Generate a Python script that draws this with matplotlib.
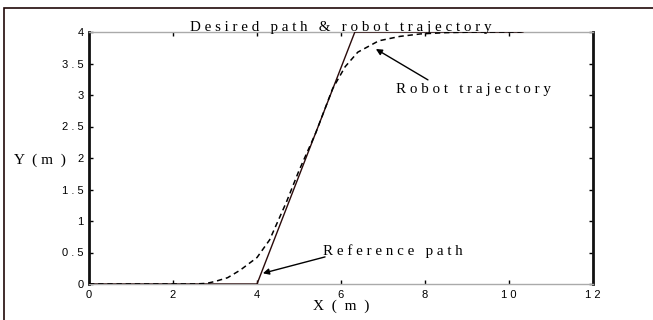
import matplotlib
matplotlib.use("Agg")
import matplotlib.pyplot as plt
from matplotlib.patches import Rectangle
from matplotlib.ticker import FixedLocator, FuncFormatter

# Data
ref_x = [0, 4.0, 6.33, 10.33]
ref_y = [0, 0, 4.0, 4.0]
traj_x = [0, 2.5, 2.8, 3.0, 3.3, 3.6, 4.0, 4.3, 4.7, 5.0, 5.4, 5.8, 6.1, 6.4, 6.9, 7.4, 7.9, 8.5, 9.3, 10.3]
traj_y = [0, 0, 0.01, 0.04, 0.1, 0.22, 0.42, 0.7, 1.3, 1.8, 2.4, 3.1, 3.45, 3.68, 3.86, 3.93, 3.97, 3.99, 4.0, 4.0]
x_ticks = [0, 2, 4, 6, 8, 10, 12]
y_ticks = [0, 0.5, 1, 1.5, 2, 2.5, 3, 3.5, 4]

def spaced(s):
    return " ".join(list(s))

fig = plt.figure(figsize=(6.53, 3.2), dpi=100)
ax = fig.add_axes([89/653, 36/320, (593-89)/653, (284-32)/320])

serif = "Liberation Serif"
sans = "Liberation Sans"

ax.plot(ref_x, ref_y, color="#2a0a0a", lw=1.0, zorder=3)
ax.plot(traj_x, traj_y, color="black", lw=1.1, dashes=(3.5, 2.5), zorder=4)

ax.set_xlim(0, 12)
ax.set_ylim(0, 4)
ax.xaxis.set_major_locator(FixedLocator(x_ticks))
ax.yaxis.set_major_locator(FixedLocator(y_ticks))
ax.xaxis.set_major_formatter(FuncFormatter(lambda v, p: spaced("%g" % v)))
ax.yaxis.set_major_formatter(FuncFormatter(lambda v, p: spaced("%g" % v)))
ax.tick_params(direction="in", length=3, width=1, top=True, right=True,
               labelsize=8, pad=4, colors="black")
for lab in ax.get_xticklabels() + ax.get_yticklabels():
    lab.set_family(sans)

for s in ["left", "right"]:
    ax.spines[s].set_linewidth(2.0)
    ax.spines[s].set_color("#111111")
for s in ["top", "bottom"]:
    ax.spines[s].set_linewidth(1.0)
    ax.spines[s].set_color("#aaaaaa")

ax.set_title(spaced("Desired path") + "   &   " + spaced("robot trajectory"),
             family=serif, fontsize=10.8, pad=1)
ax.set_xlabel("X  (  m  )", family=serif, fontsize=11, labelpad=0)
ax.text(-0.046, 0.49, "Y  ( m  )", transform=ax.transAxes, family=serif,
        fontsize=11, ha="right", va="center")

ax.annotate("", xy=(6.83, 3.73), xytext=(8.07, 3.24),
            arrowprops=dict(arrowstyle="-|>", color="black", lw=1.0,
                            mutation_scale=9, shrinkA=0, shrinkB=0))
ax.text(7.31, 3.08, spaced("Robot") + "   " + spaced("trajectory"), family=serif,
        fontsize=10.8, ha="left", va="center")

ax.annotate("", xy=(4.14, 0.17), xytext=(5.62, 0.43),
            arrowprops=dict(arrowstyle="-|>", color="black", lw=1.0,
                            mutation_scale=9, shrinkA=0, shrinkB=0))
ax.text(5.57, 0.52, spaced("Reference") + "   " + spaced("path"), family=serif,
        fontsize=10.8, ha="left", va="center")

# outer frame (partly cropped)
fig.patches.append(Rectangle((4/653, -0.1), 1.2, (320-8)/320 + 0.1,
                             transform=fig.transFigure, fill=False,
                             edgecolor="#200808", lw=1.2))

fig.savefig("out.png", dpi=100)
